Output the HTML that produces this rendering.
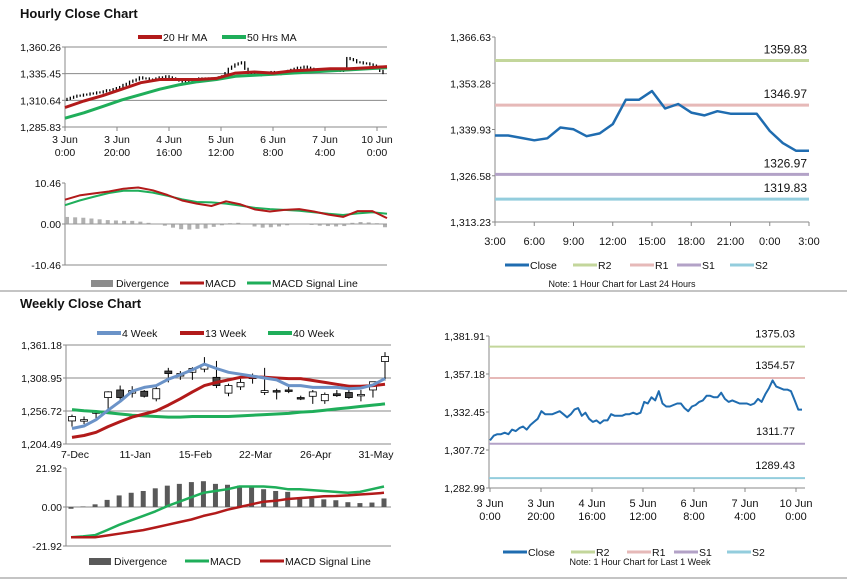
<!DOCTYPE html>
<html><head><meta charset="utf-8"><style>
html,body{margin:0;padding:0;background:#fff;}
svg{display:block;font-family:"Liberation Sans",sans-serif;}
</style></head><body>
<svg id="root" width="847" height="583" viewBox="0 0 847 583">
<text x="20" y="18" font-size="13" font-weight="bold" fill="#111">Hourly Close Chart</text>
<text x="20" y="308" font-size="13" font-weight="bold" fill="#111">Weekly Close Chart</text>
<line x1="0" y1="291" x2="847" y2="291" stroke="#888" stroke-width="1"/>
<line x1="0" y1="578" x2="847" y2="578" stroke="#888" stroke-width="1"/>
<text x="622" y="287" font-size="9" fill="#111" text-anchor="middle">Note: 1 Hour Chart for Last 24 Hours</text>
<text x="640" y="565" font-size="9" fill="#111" text-anchor="middle">Note: 1 Hour Chart for Last 1 Week</text>
</svg>
<script>
// ---- Hourly candle panel data ----
const hrCloses=[1312,1313,1314,1315,1315,1316,1316,1317,1317,1318,1318,1319,1320,1320,1321,1322,1323,1325,1326,1328,1329,1330,1332,1331,1331,1330,1330,1331,1332,1332,1333,1332,1331,1330,1329,1328,1328,1329,1330,1330,1331,1331,1330,1331,1330,1331,1332,1333,1336,1340,1342,1344,1345,1346,1340,1336,1335,1335,1334,1335,1336,1336,1337,1336,1335,1336,1337,1338,1339,1340,1341,1341,1342,1341,1340,1339,1339,1339,1338,1339,1338,1338,1339,1338,1340,1350,1349,1348,1346,1346,1345,1345,1344,1343,1342,1338,1336];
const hrMA20=[1304,1310,1315,1321,1327,1330,1330,1330,1331,1336,1337,1336,1338,1339,1340,1340,1341,1342];
const hrMA50=[1294,1299,1305,1311,1316,1321,1325,1328,1330,1333,1334,1335,1336,1337,1338,1339,1340,1341];
const hrTicks=["1,285.83","1,310.64","1,335.45","1,360.26"];
const hrXLabels=[["3 Jun","0:00"],["3 Jun","20:00"],["4 Jun","16:00"],["5 Jun","12:00"],["6 Jun","8:00"],["7 Jun","4:00"],["10 Jun","0:00"]];
// ---- Hourly MACD ----
const hrMacd=[6.2,7.3,7.8,8.3,9.0,9.3,8.6,7.4,6.0,5.2,4.6,5.8,5.0,3.7,3.2,3.6,3.8,3.2,2.4,1.8,3.3,3.3,1.5];
const hrSignal=[4.8,6.0,7.0,7.9,8.5,8.5,8.0,7.2,6.3,5.6,5.5,5.2,4.7,4.1,3.8,3.6,3.4,3.0,2.6,2.3,2.7,3.0,2.6];
const hrDiv=[1.8,1.7,1.6,1.4,1.2,1.0,0.9,0.8,0.8,0.6,0.3,0,-0.3,-0.8,-1.2,-1.3,-1.1,-1.0,-0.6,-0.2,0.2,0.3,0.1,-0.5,-0.8,-0.7,-0.5,-0.2,0.1,0.1,-0.1,-0.3,-0.4,-0.5,-0.4,0.3,0.5,0.4,0.2,-0.7];
const hrMacdTicks=["-10.46","0.00","10.46"];
// ---- Hourly pivot (right) ----
const pvHours=["3:00","6:00","9:00","12:00","15:00","18:00","21:00","0:00","3:00"];
const pvClose=[1338.2,1338.2,1337.5,1336.8,1337.4,1340.5,1340.0,1338.0,1338.8,1341.5,1348.5,1348.5,1351.0,1346.0,1347.3,1344.8,1344.0,1345.2,1344.5,1344.5,1344.5,1339.5,1336.0,1333.8,1333.8];
const pvLevels=[1359.83,1346.97,1326.97,1319.83];
const pvTicks=["1,313.23","1,326.58","1,339.93","1,353.28","1,366.63"];
// ---- Weekly candles ----
const wkLabels=["7-Dec","11-Jan","15-Feb","22-Mar","26-Apr","31-May"];
const wkOpen=[1241,1241,1253,1278,1290,1285,1288,1276,1320,1312,1318,1323,1310,1285,1295,1308,1286,1289,1290,1278,1280,1273,1284,1286,1283,1290,1335];
const wkClose=[1248,1243,1256,1287,1278,1289,1280,1292,1316,1316,1324,1330,1297,1297,1302,1311,1289,1288,1288,1276,1287,1283,1281,1278,1283,1303,1343];
const wkHigh=[1251,1248,1258,1288,1297,1296,1290,1298,1325,1320,1326,1342,1336,1300,1308,1316,1325,1292,1295,1281,1290,1286,1290,1298,1290,1303,1350];
const wkLow=[1232,1236,1245,1255,1275,1278,1278,1272,1302,1306,1306,1318,1293,1280,1290,1300,1282,1275,1285,1274,1268,1268,1279,1276,1272,1278,1305];
const wk4=[1229,1233,1243,1258,1272,1288,1294,1297,1307,1314,1322,1331,1324,1318,1315,1312,1309,1306,1297,1297,1294,1294,1294,1292,1293,1298,1308];
const wk13=[1215,1218,1223,1232,1240,1247,1252,1257,1266,1276,1287,1297,1302,1306,1310,1311,1310,1309,1308,1308,1305,1302,1299,1296,1296,1297,1299];
const wk40=[1259,1257,1256,1254,1252,1250,1249,1248,1247,1247,1248,1248,1248,1248,1249,1250,1251,1252,1253,1255,1256,1258,1260,1262,1264,1266,1268];
const wkTicks=["1,204.49","1,256.72","1,308.95","1,361.18"];
const wkDiv=[-1,0.3,1.5,4,6.5,8,9,10.5,12,13,14,14.5,13,12.5,12,11,10,9,8.5,5.5,4.8,4.3,3.8,2.7,2.2,2.5,4.8];
const wkMacd=[-17,-16.5,-15.8,-13,-10,-7.5,-5,-2.5,0.5,3,5.5,8,9,10,11.5,11.5,11.5,11,10,10,9.5,9,8.5,8,8.5,10,11.5];
const wkSignal=[-17,-17,-17,-16,-15,-14,-13,-11.5,-10,-8.5,-7,-5,-3.5,-1.5,0,1.5,3,3.5,4.5,5,5.5,6,6.2,6.5,7,7.5,8];
const wkMacdTicks=["-21.92","0.00","21.92"];
// ---- Weekly pivot (right) ----
const wpClose=[1314,1317,1318,1318,1319,1318,1321,1320,1322,1323,1321,1324,1326,1328,1333,1331,1331,1331,1332,1333,1331,1329,1331,1334,1335,1330,1332,1328,1326,1327,1325,1327,1327,1331,1330,1330,1330,1331,1331,1332,1331,1332,1339,1338,1342,1340,1346,1338,1336,1336,1337,1338,1338,1335,1333,1336,1337,1339,1340,1343,1343,1342,1342,1345,1341,1339,1340,1339,1338,1338,1338,1337,1338,1341,1339,1344,1348,1353,1349,1348,1347,1347,1346,1340,1334,1334];
const wpLevels=[1375.03,1354.57,1311.77,1289.43];
const wpTicks=["1,282.99","1,307.72","1,332.45","1,357.18","1,381.91"];

const NS="http://www.w3.org/2000/svg";
const root=document.getElementById('root');
function mk(tag,attrs,parent){const e=document.createElementNS(NS,tag);for(const k in attrs)e.setAttribute(k,attrs[k]);(parent||root).appendChild(e);return e;}
function txt(x,y,s,size,anchor,parent){const t=mk('text',{x:x,y:y,'font-size':size||10,fill:'#111','text-anchor':anchor||'start'},parent);t.textContent=s;return t;}
function lin(a,b,c,d){return v=>c+(v-a)*(d-c)/(b-a);}
function poly(vals,xf,yf,color,w,name){
  const pts=vals.map((v,i)=>xf(i).toFixed(1)+','+yf(v).toFixed(1)).join(' ');
  const p=mk('polyline',{points:pts,fill:'none',stroke:color,'stroke-width':w,'stroke-linejoin':'round'});
  
  
  return p;
}
function legendLine(x,y,color,label,w){
  const l=mk('line',{x1:x,y1:y,x2:x+24,y2:y,stroke:color,'stroke-width':w||3});
  
  
  const t=txt(x+25,y+4,label,10.5);
  
  
}
function legendBox(x,y,color,label){
  const r=mk('rect',{x:x,y:y-3,width:22,height:7,fill:color});
  
  
  const t=txt(x+25,y+4,label,10.5);
  
  
}
function yAxis(x,x2,ticks,yf,grid){
  const ax=mk('line',{x1:x,y1:yf(parseFloat(ticks[0].replace(/,/g,''))),x2:x,y2:yf(parseFloat(ticks[ticks.length-1].replace(/,/g,''))),stroke:'#888'});
  
  
  ticks.forEach(s=>{const v=parseFloat(s.replace(/,/g,''));const y=yf(v);
    if(grid){const g=mk('line',{x1:x,y1:y,x2:x2,y2:y,stroke:'#8a8a8a','stroke-width':1});
      
      }
    mk('line',{x1:x-3,y1:y,x2:x,y2:y,stroke:'#888'});
    const t=txt(x-4,y+4,s,10.5,'end');
    
    });
}

// ===== Hourly candle panel =====
(function(){
  const x0=65,x1=387,yf=lin(1285.83,1360.26,127,47);
  yAxis(x0,x1,hrTicks,yf,true);
  mk('line',{x1:x0,y1:127,x2:x1,y2:127,stroke:'#888'});
  hrXLabels.forEach((l,i)=>{const x=x0+i*52;mk('line',{x1:x,y1:127,x2:x,y2:131,stroke:'#888'});
    const t=txt(x,143,l[0],10.5,'middle');
    const t2=txt(x,156,l[1],10.5,'middle');});
  const cx=i=>x0+2+i*(x1-x0-6)/(hrCloses.length-1);
  hrCloses.forEach((c,i)=>{const o=i?hrCloses[i-1]:c-1;const hi=Math.max(o,c)+1,lo=Math.min(o,c)-1;
    const g=mk('line',{x1:cx(i),y1:yf(hi),x2:cx(i),y2:yf(lo),stroke:'#000','stroke-width':1.3});
    
    });
  const mx=arr=>i=>x0+i*(x1-x0)/(arr.length-1);
  poly(hrMA50,mx(hrMA50),yf,'#1fae5a',3,'ma50-line');
  poly(hrMA20,mx(hrMA20),yf,'#b21a1a',3,'ma20-line');
  legendLine(138,37,'#b21a1a','20 Hr MA',4);
  legendLine(222,37,'#1fae5a','50 Hrs MA',4);
})();
// ===== Hourly MACD =====
(function(){
  const x0=65,x1=387,yf=lin(-10.46,10.46,265,183);
  yAxis(x0,x1,hrMacdTicks,yf,false);
  mk('line',{x1:x0,y1:265,x2:x1,y2:265,stroke:'#888'});
  const bx=i=>x0+2+i*(x1-x0-4)/(hrDiv.length-1);
  hrDiv.forEach((v,i)=>{const r=mk('rect',{x:bx(i)-2,y:Math.min(yf(v),yf(0)),width:4,height:Math.abs(yf(v)-yf(0))+0.5,fill:'#b0b0b0'});
    
    });
  mk('line',{x1:x0,y1:yf(0),x2:x1,y2:yf(0),stroke:'#999'});
  const mx=arr=>i=>x0+i*(x1-x0)/(arr.length-1);
  poly(hrSignal,mx(hrSignal),yf,'#1fae5a',2,'macd-signal-line');
  poly(hrMacd,mx(hrMacd),yf,'#b21a1a',2,'macd-line');
  legendBox(91,283,'#8c8c8c','Divergence');
  legendLine(180,283,'#b21a1a','MACD',3);
  legendLine(247,283,'#1fae5a','MACD Signal Line',3);
})();
// ===== Hourly pivot =====
(function(){
  const x0=495,x1=809,yf=lin(1313.23,1366.63,222,37);
  yAxis(x0,x1,pvTicks,yf,false);
  mk('line',{x1:x0,y1:222,x2:x1,y2:222,stroke:'#888'});
  const xf=i=>x0+i*(x1-x0)/(pvClose.length-1);
  pvHours.forEach((h,i)=>{const x=x0+i*(x1-x0)/(pvHours.length-1);mk('line',{x1:x,y1:222,x2:x,y2:226,stroke:'#888'});
    const t=txt(x,245,h,11,'middle');});
  const cols=['#c3d69b','#e6b9b8','#b3a2c7','#93cddd'];
  pvLevels.forEach((v,i)=>{const l=mk('line',{x1:x0,y1:yf(v),x2:x1,y2:yf(v),stroke:cols[i],'stroke-width':3});
    
    
    const t=txt(807,yf(v)-7,v.toFixed(2),12,'end');});
  poly(pvClose,xf,yf,'#1f6cb0',2.5,'close-line');
  legendLine(505,265,'#1f6cb0','Close',3);
  legendLine(573,265,'#c3d69b','R2',3);
  legendLine(630,265,'#e6b9b8','R1',3);
  legendLine(677,265,'#b3a2c7','S1',3);
  legendLine(730,265,'#93cddd','S2',3);
})();
// ===== Weekly candles =====
(function(){
  const x0=66,x1=391,yf=lin(1204.49,1361.18,444,345);
  yAxis(x0,x1,wkTicks,yf,true);
  mk('line',{x1:x0,y1:444,x2:x1,y2:444,stroke:'#888'});
  const xf=i=>72+i*(385-72)/(wkOpen.length-1);
  wkLabels.forEach((l,i)=>{const x=xf(i*5)+3;const t=txt(x,458,l,10.5,'middle');});
  wkOpen.forEach((o,i)=>{const c=wkClose[i];const x=xf(i);
    const w=mk('line',{x1:x,y1:yf(wkHigh[i]),x2:x,y2:yf(wkLow[i]),stroke:'#000'});
    
    
    const top=yf(Math.max(o,c)),h=Math.max(1.5,Math.abs(yf(o)-yf(c)));
    const r=mk('rect',{x:x-3.5,y:top,width:7,height:h,fill:c>=o?'#fff':'#444',stroke:'#000','stroke-width':0.8});
    
    });
  poly(wk40,xf,yf,'#1fae5a',3,'week40-line');
  poly(wk13,xf,yf,'#b21a1a',3,'week13-line');
  poly(wk4,xf,yf,'#6b93c8',3,'week4-line');
  legendLine(97,333,'#6b93c8','4 Week',4);
  legendLine(180,333,'#b21a1a','13 Week',4);
  legendLine(268,333,'#1fae5a','40 Week',4);
})();
// ===== Weekly MACD =====
(function(){
  const x0=66,x1=391,yf=lin(-21.92,21.92,546,468);
  yAxis(x0,x1,wkMacdTicks,yf,false);
  mk('line',{x1:x0,y1:546,x2:x1,y2:546,stroke:'#888'});
  mk('line',{x1:x0,y1:yf(0),x2:x1,y2:yf(0),stroke:'#888'});
  const xf=i=>71+i*(384-71)/(wkDiv.length-1);
  wkDiv.forEach((v,i)=>{const r=mk('rect',{x:xf(i)-2.5,y:Math.min(yf(v),yf(0)),width:5,height:Math.abs(yf(v)-yf(0)),fill:'#595959'});
    
    });
  poly(wkMacd,xf,yf,'#1fae5a',2.5,'weekly-macd-line');
  poly(wkSignal,xf,yf,'#b21a1a',2.5,'weekly-signal-line');
  legendBox(89,561,'#595959','Divergence');
  legendLine(185,561,'#1fae5a','MACD',3);
  legendLine(260,561,'#b21a1a','MACD Signal Line',3);
})();
// ===== Weekly pivot =====
(function(){
  const x0=489,x1=805,yf=lin(1282.99,1381.91,488,336);
  yAxis(x0,x1,wpTicks,yf,false);
  mk('line',{x1:x0,y1:488,x2:x1,y2:488,stroke:'#888'});
  hrXLabels.forEach((l,i)=>{const x=490+i*51;mk('line',{x1:x,y1:488,x2:x,y2:492,stroke:'#888'});
    const t=txt(x,507,l[0],11,'middle');
    const t2=txt(x,520,l[1],11,'middle');});
  const cols=['#c3d69b','#e6b9b8','#b3a2c7','#93cddd'];
  wpLevels.forEach((v,i)=>{const l=mk('line',{x1:x0,y1:yf(v),x2:x1,y2:yf(v),stroke:cols[i],'stroke-width':2});
    
    
    const t=txt(795,yf(v)-9,v.toFixed(2),11,'end');});
  const xf=i=>490+i*(802-490)/(wpClose.length-1);
  poly(wpClose,xf,yf,'#1f6cb0',2,'weekly-close-line');
  legendLine(503,552,'#1f6cb0','Close',3);
  legendLine(571,552,'#c3d69b','R2',3);
  legendLine(627,552,'#e6b9b8','R1',3);
  legendLine(674,552,'#b3a2c7','S1',3);
  legendLine(727,552,'#93cddd','S2',3);
})();
</script>
</body></html>
